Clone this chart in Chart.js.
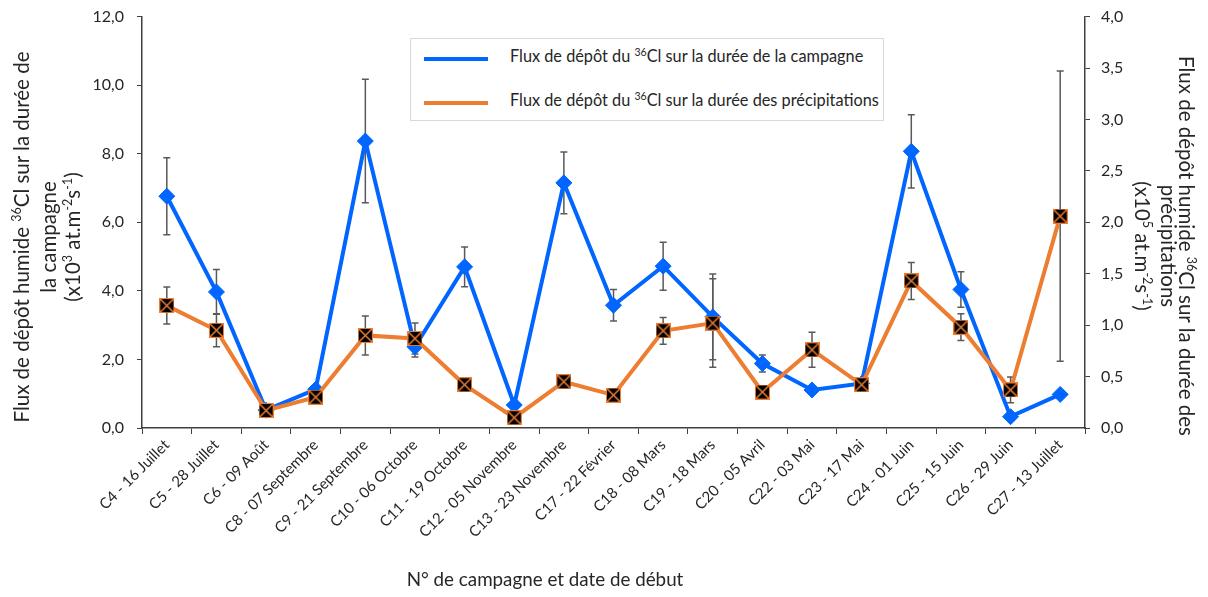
<!DOCTYPE html>
<html lang="fr">
<head>
<meta charset="utf-8">
<title>Flux de dépôt humide du 36Cl</title>
<script src="https://cdn.jsdelivr.net/npm/chart.js@4.4.1/dist/chart.umd.min.js"></script>
<style>
  html, body { margin: 0; padding: 0; background: #ffffff; overflow: hidden; }
  #wrap { position: relative; width: 1208px; height: 597px; overflow: hidden; font-family: Lato, "Open Sans", sans-serif; color: #262626; }
  #graph { position: absolute; left: 0; top: -6px; }
  .rot { position: absolute; width: 440px; text-align: center; font-size: 20.5px; line-height: 22px; white-space: nowrap; }
  .rot sup { font-size: 12.5px; line-height: 0; }
  #xtitle { position: absolute; left: 345px; width: 400px; top: 567px; text-align: center; font-size: 18.8px; }
  #legende { position: absolute; left: 410px; top: 38px; width: 472px; height: 81px; border: 1px solid #d9d9d9; background: #fff; }
  .item { position: absolute; left: 0; font-size: 16.3px; white-space: nowrap; }
  .item .trait { position: absolute; left: 13px; width: 64px; height: 4px; }
  .item span.txt { position: absolute; left: 99px; top: -11px; }
  .item sup { font-size: 10.5px; line-height: 0; }
</style>
</head>
<body>
<div id="wrap">
  <canvas id="graph" width="1208" height="603"></canvas>

  <div class="rot" style="left:-199px; top:226px; transform: rotate(-90deg);">Flux de dépôt humide <sup>36</sup>Cl sur la durée de</div>
  <div class="rot" style="left:-172px; top:226px; transform: rotate(-90deg);">la campagne</div>
  <div class="rot" style="left:-148px; top:226px; transform: rotate(-90deg);">(x10<sup>3</sup> at.m<sup>-2</sup>s<sup>-1</sup>)</div>

  <div class="rot" style="left:967px; top:235px; transform: rotate(90deg);">Flux de dépôt humide <sup>36</sup>Cl sur la durée des</div>
  <div class="rot" style="left:949px; top:235px; transform: rotate(90deg);">précipitations</div>
  <div class="rot" style="left:923px; top:235px; transform: rotate(90deg);">(x10<sup>5</sup> at.m<sup>-2</sup>s<sup>-1</sup>)</div>

  <div id="xtitle">N° de campagne et date de début</div>

  <div id="legende">
    <div class="item" style="top:18px;"><div class="trait" style="background:#0066ff;"></div><span class="txt">Flux de dépôt du <sup>36</sup>Cl sur la durée de la campagne</span></div>
    <div class="item" style="top:62px;"><div class="trait" style="background:#ed7d31;"></div><span class="txt">Flux de dépôt du <sup>36</sup>Cl sur la durée des précipitations</span></div>
  </div>
</div>

<script>
// campagnes et date de début
const campagnes = [
  "C4 - 16 Juillet", "C5 - 28 Juillet", "C6 - 09 Août", "C8 - 07 Septembre",
  "C9 - 21 Septembre", "C10 - 06 Octobre", "C11 - 19 Octobre", "C12 - 05 Novembre",
  "C13 - 23 Novembre", "C17 - 22 Février", "C18 - 08 Mars", "C19 - 18 Mars",
  "C20 - 05 Avril", "C22 - 03 Mai", "C23 - 17 Mai", "C24 - 01 Juin",
  "C25 - 15 Juin", "C26 - 29 Juin", "C27 - 13 Juillet"
];

// flux sur la durée de la campagne (x10^3 at.m-2.s-1), axe gauche
const fluxCampagne = [6.76, 3.97, 0.52, 1.13, 8.37, 2.37, 4.70, 0.67, 7.15, 3.58, 4.72, 3.24, 1.88, 1.11, 1.30, 8.07, 4.04, 0.33, 0.98];
const errCampagne  = [1.12, 0.65, 0, 0, 1.80, 0.30, 0.58, 0, 0.90, 0.46, 0.70, 1.25, 0.25, 0, 0.15, 1.07, 0.52, 0, 0];

// flux sur la durée des précipitations (x10^5 at.m-2.s-1), axe droit
const fluxPrecip = [1.19, 0.95, 0.17, 0.30, 0.90, 0.87, 0.42, 0.10, 0.45, 0.32, 0.945, 1.02, 0.35, 0.76, 0.42, 1.43, 0.98, 0.37, 2.06];
const errPrecip  = [0.18, 0.16, 0, 0, 0.19, 0.15, 0, 0, 0, 0, 0.13, 0.43, 0, 0.17, 0, 0.18, 0.13, 0.125, 1.41];

const BLEU = "#0066ff";
const ORANGE = "#ed7d31";
const AXE = "#404040";

// marqueur carré noir barré d'une croix orange
function marqueurCroix() {
  const c = document.createElement("canvas");
  c.width = 15; c.height = 15;
  const g = c.getContext("2d");
  g.fillStyle = "#000";
  g.fillRect(0, 0, 15, 15);
  g.strokeStyle = ORANGE;
  g.lineWidth = 1;
  g.strokeRect(0.5, 0.5, 14, 14);
  g.lineWidth = 1.5;
  g.beginPath();
  g.moveTo(1, 1); g.lineTo(14, 14);
  g.moveTo(14, 1); g.lineTo(1, 14);
  g.stroke();
  return c;
}

const virgule = v => v.toFixed(1).replace(".", ",");

// barres d'erreur, tracées sous les courbes
const barresErreur = {
  id: "barresErreur",
  beforeDatasetsDraw(chart) {
    const ctx = chart.ctx;
    const xs = chart.scales.x;
    const series = [
      { val: fluxCampagne, err: errCampagne, axe: chart.scales.y },
      { val: fluxPrecip, err: errPrecip, axe: chart.scales.y2 }
    ];
    ctx.save();
    ctx.strokeStyle = "#595959";
    ctx.lineWidth = 1.5;
    series.forEach(s => {
      s.val.forEach((v, i) => {
        if (!s.err[i]) return;
        const x = xs.getPixelForValue(i);
        const yh = s.axe.getPixelForValue(v + s.err[i]);
        const yb = s.axe.getPixelForValue(v - s.err[i]);
        ctx.beginPath();
        ctx.moveTo(x, yh); ctx.lineTo(x, yb);
        ctx.moveTo(x - 3.5, yh); ctx.lineTo(x + 3.5, yh);
        ctx.moveTo(x - 3.5, yb); ctx.lineTo(x + 3.5, yb);
        ctx.stroke();
      });
    });
    ctx.restore();
  }
};

new Chart(document.getElementById("graph"), {
  type: "line",
  data: {
    labels: campagnes,
    datasets: [
      {
        label: "Flux de dépôt du 36Cl sur la durée de la campagne",
        data: fluxCampagne,
        yAxisID: "y",
        borderColor: BLEU,
        backgroundColor: BLEU,
        borderWidth: 4,
        pointStyle: "rectRot",
        pointRadius: 8,
        pointBorderWidth: 1,
        tension: 0,
        order: 2
      },
      {
        label: "Flux de dépôt du 36Cl sur la durée des précipitations",
        data: fluxPrecip,
        yAxisID: "y2",
        borderColor: ORANGE,
        backgroundColor: ORANGE,
        borderWidth: 4,
        pointStyle: marqueurCroix(),
        tension: 0,
        order: 1
      }
    ]
  },
  options: {
    responsive: false,
    animation: false,
    layout: { padding: { top: 2, left: 0, right: 0, bottom: 0 } },
    plugins: {
      legend: { display: false },
      tooltip: { enabled: false }
    },
    scales: {
      x: {
        offset: true,
        grid: { display: true, drawOnChartArea: false, offset: true, tickLength: 6, color: AXE, tickColor: AXE },
        border: { color: AXE, width: 1.5 },
        ticks: {
          autoSkip: false, minRotation: 45, maxRotation: 45, padding: 2,
          color: "#262626", font: { family: "Lato", size: 15 }
        },
        afterFit(s) { s.height = 169; }
      },
      y: {
        position: "left",
        min: 0, max: 12,
        grid: { display: true, drawOnChartArea: false, tickLength: 5, color: AXE, tickColor: AXE },
        border: { color: AXE, width: 1.5 },
        ticks: {
          stepSize: 2, padding: 13, color: "#262626", font: { family: "Lato", size: 16 },
          callback: v => virgule(v)
        },
        afterFit(s) { s.width = 142; }
      },
      y2: {
        position: "right",
        min: 0, max: 4,
        grid: { display: true, drawOnChartArea: false, tickLength: 5, color: AXE, tickColor: AXE },
        border: { color: AXE, width: 1.5 },
        ticks: {
          stepSize: 0.5, padding: 11, color: "#262626", font: { family: "Lato", size: 16 },
          callback: v => virgule(v)
        },
        afterFit(s) { s.width = 123; }
      }
    }
  },
  plugins: [barresErreur]
});
</script>
</body>
</html>
